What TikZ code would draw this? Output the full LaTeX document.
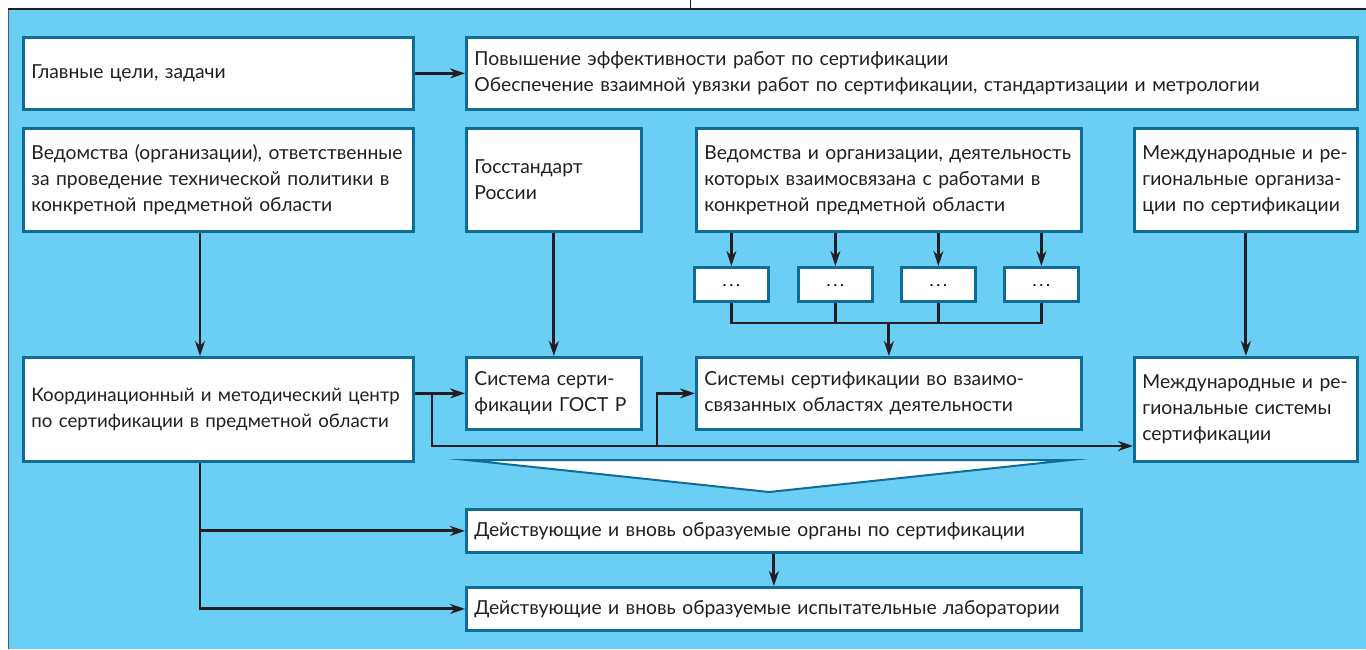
\documentclass[tikz,border=0pt]{standalone}
\usepackage{fontspec}
\setmainfont{Lato}
\usetikzlibrary{arrows.meta,calc}
\definecolor{bg}{RGB}{107,206,245}
\definecolor{bd}{RGB}{16,108,146}
\definecolor{ln}{RGB}{35,31,32}
\begin{document}
\begin{tikzpicture}[x=1pt,y=-1pt,
  box/.style={draw=bd, line width=2.8pt, fill=white, anchor=north west, align=left,
    inner xsep=8pt, inner ysep=0pt, font=\fontsize{19.3}{26}\selectfont, text=ln},
  dotbox/.style={draw=bd, line width=2.8pt, fill=white, anchor=north west,
    minimum width=74pt, minimum height=34pt, inner sep=0pt, font=\fontsize{17}{16}\selectfont},
  conn/.style={draw=ln, line width=2.9pt, -{Stealth[length=15pt,width=10pt]}},
  wire/.style={draw=ln, line width=2.9pt}]
\useasboundingbox (0,0) rectangle (1366,649);
\fill[white] (0,0) rectangle (1366,649);
\fill[bg] (8,9) rectangle (1366,649);
\draw[gray!70!black, line width=1pt] (8,649) -- (8,9);
\draw[ln, line width=1.4pt] (8,9) -- (1366,9);
\draw[ln, line width=1pt] (690,0) -- (690,9);

% row 1
\node[box, minimum width=390pt, minimum height=72pt, text width=374pt] (A) at (22,36) {Главные цели, задачи};
\node[box, minimum width=891pt, minimum height=72pt, text width=875pt] (B) at (465,36) {Повышение эффективности работ по сертификации\\Обеспечение взаимной увязки работ по сертификации, стандартизации и метрологии};

% row 2
\node[box, minimum width=390pt, minimum height=103pt, text width=374pt] (C) at (22,127) {Ведомства (организации), ответственные\\за проведение технической политики в\\конкретной предметной области};
\node[box, minimum width=175pt, minimum height=103pt, text width=159pt] (D) at (465,127) {Госстандарт\\России};
\node[box, minimum width=385pt, minimum height=103pt, text width=369pt] (E) at (695,127) {Ведомства и организации, деятельность\\которых взаимосвязана с работами в\\конкретной предметной области};
\node[box, minimum width=223pt, minimum height=103pt, text width=207pt] (F) at (1133,127) {Международные и ре-\\гиональные организа-\\ции по сертификации};

% dots
\node[dotbox] (d1) at (693,266) {\raisebox{-5pt}{.\,.\,.}};
\node[dotbox] (d2) at (797,266) {\raisebox{-5pt}{.\,.\,.}};
\node[dotbox] (d3) at (900,266) {\raisebox{-5pt}{.\,.\,.}};
\node[dotbox] (d4) at (1003,266) {\raisebox{-5pt}{.\,.\,.}};

% row 3
\node[box, minimum width=390pt, minimum height=104pt, text width=374pt, font=\fontsize{18.7}{26}\selectfont] (G) at (22,356) {\makebox[374pt][l]{Координационный и методический центр}\\по сертификации в предметной области};
\node[box, minimum width=175pt, minimum height=72pt, text width=159pt] (H) at (465,356) {Система серти-\\фикации ГОСТ Р};
\node[box, minimum width=385pt, minimum height=72pt, text width=369pt] (I) at (695,356) {Системы сертификации во взаимо-\\связанных областях деятельности};
\node[box, minimum width=223pt, minimum height=104pt, text width=207pt] (J) at (1133,356) {Международные и ре-\\гиональные системы\\сертификации};

% bottom
\node[box, minimum width=615pt, minimum height=43pt, text width=599pt] (K) at (465,508) {Действующие и вновь образуемые органы по сертификации};
\node[box, minimum width=615pt, minimum height=43pt, text width=599pt] (L) at (465,586) {Действующие и вновь образуемые испытательные лаборатории};

% white triangle
\draw[bd, fill=white, line width=2pt, miter limit=30] (467,460) -- (1070,460) -- (769,492) -- cycle;

% helper coordinates
\coordinate (xc) at (200,0);
\coordinate (bus) at (0,323);
\coordinate (br1) at (432,0);
\coordinate (br2) at (657,0);
\coordinate (low) at (0,446);

% connectors
\draw[conn] (A.east) -- (B.west);
\draw[conn] (C.south -| xc) -- (G.north -| xc);
\draw[conn] (D.south) -- (H.north);
\draw[conn] (F.south) -- (J.north);
\foreach \d in {d1,d2,d3,d4} \draw[conn] (E.south -| \d.north) -- (\d.north);
\draw[wire] (d1.south) -- (d1.south |- bus) -- (d4.south |- bus) -- (d4.south);
\draw[wire] (d2.south) -- (d2.south |- bus);
\draw[wire] (d3.south) -- (d3.south |- bus);
\draw[conn] (I.north |- bus) -- (I.north);
\draw[conn] (G.east |- H.west) -- (H.west);
\draw[wire] (br1 |- H.west) -- (br1 |- low) -- (br2 |- low);
\draw[conn] (br2 |- low) -- (J.west |- low);
\draw[conn] (br2 |- low) -- (br2 |- I.west) -- (I.west);
\draw[conn] (G.south -| xc) |- (K.west);
\draw[conn] (G.south -| xc) |- (L.west);
\draw[conn] (K.south) -- (L.north);
\end{tikzpicture}
\end{document}
